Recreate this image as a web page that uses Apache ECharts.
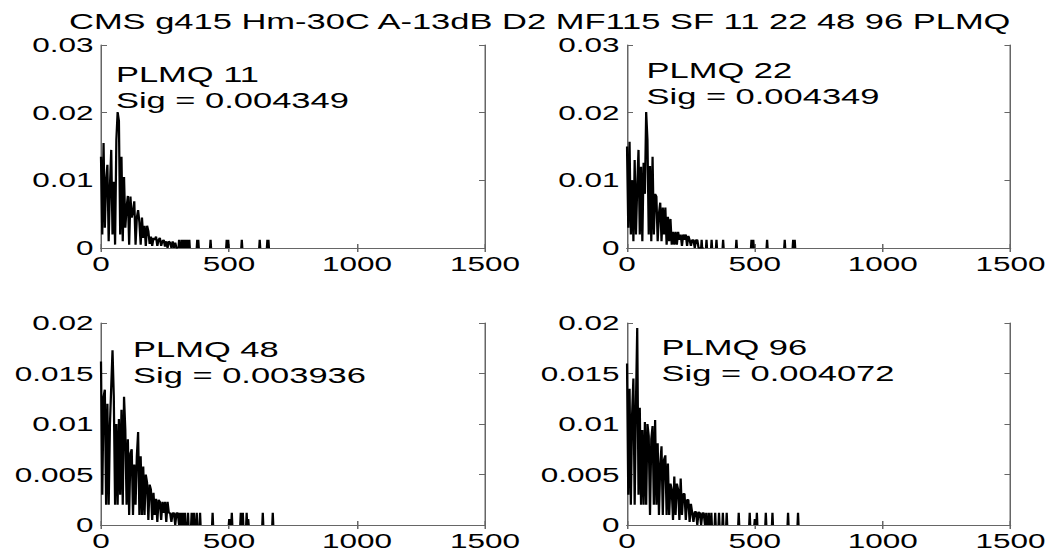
<!DOCTYPE html>
<html>
<head>
<meta charset="utf-8">
<script src="https://cdn.jsdelivr.net/npm/echarts@6/dist/echarts.min.js"></script>
<style>
  html, body { margin: 0; padding: 0; background: #fff; overflow: hidden; }
  #wrap { width: 1050px; height: 551px; overflow: hidden; }
  #chart { width: 700px; height: 551px; transform: scaleX(1.5); transform-origin: 0 0; }
</style>
</head>
<body>
<div id="wrap"><div id="chart"></div></div>
<script>
// ---- data ----
const mainTitle = 'CMS g415 Hm-30C A-13dB D2 MF115 SF 11 22 48 96 PLMQ';
const panelNames = ['PLMQ 11', 'PLMQ 22', 'PLMQ 48', 'PLMQ 96'];
const sigValues = ['0.004349', '0.004349', '0.003936', '0.004072'];
const xTicks = [0, 500, 1000, 1500];
const yMaxes = [0.03, 0.03, 0.02, 0.02];
const yIntervals = [0.01, 0.01, 0.005, 0.005];
const binStep = 5;

const tlDense = [0.0135,0.002,0.0155,0.003,0.010,0.0123,0.001,0.0092,0.0145,0.002,
  0.0098,0.0005,0.016,0.0201,0.0188,0.002,0.0135,0.001,0.0105,0.003,
  0.006,0.0077,0.0005,0.0076,0.0045,0.0054,0.0069,0.0005,0.0045,0.0056,
  0.0038,0.0005,0.0045,0.0015,0.0033,0.0003,0.0033,0.0025,0.0006,0.0017,
  0.0003,0.0015,0.0012,0.0017,0.0003,0.0012,0.0015,0.0003,0.0010,0.0012,
  0.0002,0.0010,0,0.0010,0.0008,0,0.0010,0,0.0008,0,0];
const tlTail = [[305,0.0012],[315,0.0012],[322,0.0012],[328,0.0012],[336,0.0012],[345,0.0012],
  [376,0.0012],[380,0.0012],[428,0.0012],[491,0.0012],[497,0.0012],[550,0.0012],[620,0.0012],[650,0.0012],[654,0.0012]];

const trDense = [0.015,0.003,0.0157,0.002,0.010,0.001,0.013,0.002,0.009,0.0145,
  0.002,0.012,0.001,0.0126,0.008,0.0201,0.016,0.002,0.0121,0.001,
  0.0135,0.002,0.008,0.0076,0.001,0.0051,0.0067,0.001,0.006,0.002,
  0.006,0.0005,0.0046,0.001,0.0043,0.0005,0.0024,0.0005,0.0024,0.0005,
  0.0024,0.0012,0.002,0.0003,0.002,0.0012,0.002,0.0003,0.0018,0.0012,
  0.0003,0.0012,0.0012,0,0.0012,0.0012,0,0,0,0,0];
const trTail = [[292,0.0012],[311,0.0012],[331,0.0012],[350,0.0012],[376,0.0012],[428,0.0012],
  [487,0.0012],[494,0.0012],[548,0.0012],[617,0.0012],[650,0.0012],[656,0.0012]];

const blDense = [0.0162,0.003,0.0127,0.0134,0.002,0.012,0.002,0.010,0.0137,0.0173,
  0.0127,0.002,0.0100,0.002,0.0105,0.003,0.0114,0.002,0.0127,0.0094,
  0.002,0.0085,0.001,0.0071,0.0075,0.001,0.006,0.002,0.0068,0.0092,
  0.001,0.0068,0.001,0.0058,0.001,0.0050,0.0042,0.0005,0.0040,0.0035,
  0.0005,0.0032,0.001,0.0026,0.0003,0.0025,0.0023,0.0005,0.0023,0.0012,
  0.0023,0.0003,0.0023,0.0012,0.0012,0.0003,0.0012,0.0012,0,0.0012,0.0012,0];
const blTail = [[309,0.0012],[315,0.0012],[322,0.0012],[328,0.0012],[340,0.0012],[354,0.0012],
  [363,0.0012],[374,0.0012],[387,0.0012],[436,0.0012],[501,0.0006],[511,0.0012],[546,0.0012],
  [554,0.0012],[569,0.0012],[575,0.0006],[632,0.0012],[671,0.0012]];

const brDense = [0.016,0.003,0.0135,0.002,0.011,0.0145,0.002,0.012,0.0195,0.003,
  0.0116,0.002,0.0094,0.002,0.0102,0.002,0.0100,0.0088,0.001,0.0085,
  0.0098,0.002,0.0104,0.002,0.0081,0.001,0.006,0.0078,0.001,0.0065,
  0.0069,0.001,0.0061,0.001,0.0041,0.0035,0.0005,0.0048,0.001,0.0041,
  0.0035,0.0005,0.0046,0.001,0.0031,0.0031,0.0005,0.0025,0.0025,0.0003,
  0.0021,0.0012,0.0003,0.0013,0.0013,0,0.0013,0.0012,0,0.0012,0.0012,0];
const brTail = [[310,0.0012],[320,0.0012],[330,0.0012],[345,0.0012],[360,0.0012],[375,0.0012],
  [390,0.0012],[437,0.0012],[480,0.0012],[500,0.0006],[508,0.0012],[543,0.0012],[569,0.0012],
  [630,0.0012],[669,0.0012]];

const denseSets = [tlDense, trDense, blDense, brDense];
const tailSets = [tlTail, trTail, blTail, brTail];

// ---- build ----
function buildLine(dense, tail) {
  const pts = dense.map((v, i) => [i * binStep, v]);
  tail.forEach(([x, v]) => {
    pts.push([x - 2, '-']);
    pts.push([x - 2, 0]);
    pts.push([x, v]);
    pts.push([x + 2, 0]);
  });
  return pts;
}

const FONT = 'Liberation Sans';
const frameColor = '#666';
const grids = [
  { left: 67.33, top: 45, width: 256, height: 203 },
  { left: 418, top: 45, width: 256, height: 203 },
  { left: 67.33, top: 323, width: 256, height: 202 },
  { left: 418, top: 323, width: 256, height: 202 }
];
const notePos = [
  { left: 77.3, top: 61 },
  { left: 431, top: 57 },
  { left: 88.7, top: 336 },
  { left: 441, top: 334 }
];

const xAxis = [], yAxis = [], series = [];
grids.forEach((g, i) => {
  const common = {
    gridIndex: i, type: 'value', min: 0, max: xTicks[xTicks.length - 1], interval: xTicks[1] - xTicks[0],
    axisLine: { show: true, lineStyle: { color: frameColor, width: 1 } },
    axisTick: { show: true, inside: true, length: 4, lineStyle: { color: frameColor } },
    splitLine: { show: false }
  };
  xAxis.push(Object.assign({}, common, {
    position: 'bottom',
    axisLabel: { fontSize: 21, color: '#000', fontFamily: FONT, margin: 5, formatter: v => String(v) }
  }));
  xAxis.push(Object.assign({}, common, { position: 'top', axisLabel: { show: false } }));
  const ycommon = {
    gridIndex: i, type: 'value', min: 0, max: yMaxes[i], interval: yIntervals[i],
    axisLine: { show: true, onZero: false, lineStyle: { color: frameColor, width: 1 } },
    axisTick: { show: true, inside: true, length: 4, lineStyle: { color: frameColor } },
    splitLine: { show: false }
  };
  yAxis.push(Object.assign({}, ycommon, {
    position: 'left',
    axisLabel: { fontSize: 21, color: '#000', fontFamily: FONT, margin: 5 }
  }));
  yAxis.push(Object.assign({}, ycommon, { position: 'right', axisLabel: { show: false } }));
  series.push({
    type: 'line', xAxisIndex: 2 * i, yAxisIndex: 2 * i,
    data: buildLine(denseSets[i], tailSets[i]),
    symbol: 'none', connectNulls: false, clip: true,
    lineStyle: { color: '#000', width: 1.5 },
    animation: false
  });
});

const titles = [{
  text: mainTitle, left: 41, top: 4,
  textStyle: { fontSize: 23, fontWeight: 'normal', fontFamily: FONT, color: '#000' }
}];
panelNames.forEach((n, i) => {
  titles.push({
    text: n + '\nSig = ' + sigValues[i],
    left: notePos[i].left, top: notePos[i].top, padding: 0,
    textStyle: { fontSize: 23, fontWeight: 'normal', fontFamily: FONT, color: '#000', lineHeight: 26 }
  });
});

const chart = echarts.init(document.getElementById('chart'), null, { renderer: 'svg' });
chart.setOption({
  backgroundColor: '#fff',
  animation: false,
  title: titles,
  grid: grids,
  xAxis: xAxis,
  yAxis: yAxis,
  series: series
});
</script>
</body>
</html>
